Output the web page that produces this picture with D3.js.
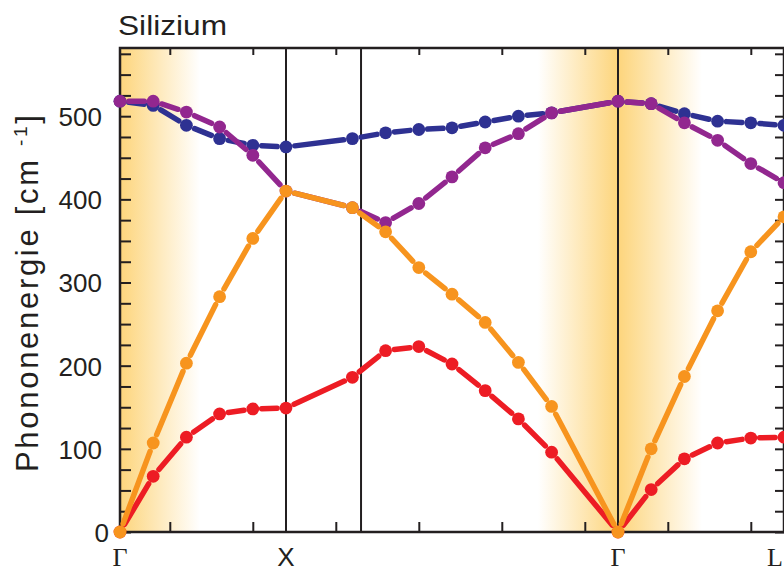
<!DOCTYPE html>
<html>
<head>
<meta charset="utf-8">
<script src="https://cdn.jsdelivr.net/npm/d3@7"></script>
<style>
  html, body { margin: 0; padding: 0; background: #fff; }
  svg { display: block; }
  text { font-family: "Liberation Sans", Arial, sans-serif; fill: #231f20; }
</style>
</head>
<body>
<svg id="chart" width="784" height="572"></svg>
<script>
// Phonon dispersion of silicon along Γ–X–K–Γ–L (path coordinate in sampling steps)
const pathSteps = [0, 1, 2, 3, 4, 5, 7, 8, 9, 10, 11, 12, 13, 15, 16, 17, 18, 19, 20];

const branchTO1 = [518, 513, 489, 473, 465, 463, 473, 480, 484, 486, 493, 500, 504, 518, 515, 503, 494, 492, 489];
const branchTO2 = [518, 518, 505, 487, 453, 410, 390, 372, 395, 427, 462, 479, 504, 518, 515, 492, 471, 443, 420];
const branchLA  = [0, 107, 203, 283, 353, 410, 390, 361, 318, 286, 252, 204, 151, 0, 100, 187, 266, 337, 379];
const branchTA  = [0, 67, 114, 142, 148, 149, 186, 218, 223, 202, 170, 136, 96, 0, 51, 88, 107, 113, 114];

const symmetryPoints = [
  { label: "Γ", step: 0, serif: true, anchor: "middle" },
  { label: "X", step: 5, serif: false, anchor: "middle" },
  { label: "Γ", step: 15, serif: true, anchor: "middle" },
  { label: "L", step: 20, serif: true, anchor: "end" }
];
const dividerSteps = [5, 7.26, 15];
const pathTickSteps = [1.5, 4, 6.5, 9, 11.5, 14, 16.5, 19];
const yTickValues = d3.range(0, 576, 25);
const yLabelValues = [0, 100, 200, 300, 400, 500];

const branches = [
  { name: "TO1", values: branchTO1, color: "#2E3192" },
  { name: "TO2", values: branchTO2, color: "#92278F" },
  { name: "TA",  values: branchTA,  color: "#ED1C24" },
  { name: "LA",  values: branchLA,  color: "#F7941E" }
];

const svg = d3.select("#chart");
const plotL = 120, plotR = 784, plotT = 48, plotB = 532;

const x = d3.scaleLinear().domain([0, 20]).range([plotL, plotR]);
const y = d3.scaleLinear().domain([0, 582]).range([plotB, plotT]);

// highlighted regions around the Γ points
const defs = svg.append("defs");
const band = "#FDD57C";
function grad(id, stops) {
  const x0 = stops[0][0], x1 = stops[stops.length - 1][0];
  const g = defs.append("linearGradient").attr("id", id)
    .attr("gradientUnits", "userSpaceOnUse")
    .attr("x1", x0).attr("x2", x1).attr("y1", 0).attr("y2", 0);
  stops.forEach(([px, op]) => g.append("stop")
    .attr("offset", (px - x0) / (x1 - x0))
    .attr("stop-color", band).attr("stop-opacity", op));
}
grad("gLeft", [[x(0), 1], [x(0) + 80, 0]]);
grad("gMid", [[x(15) - 80, 0], [x(15), 1], [x(15) + 84, 0]]);

svg.append("rect").attr("x", x(0)).attr("y", plotT).attr("width", 80).attr("height", plotB - plotT)
  .attr("fill", "url(#gLeft)");
svg.append("rect").attr("x", x(15) - 80).attr("y", plotT).attr("width", 164).attr("height", plotB - plotT)
  .attr("fill", "url(#gMid)");

// vertical dividers at the symmetry points
svg.selectAll("line.divider").data(dividerSteps).enter().append("line")
  .attr("class", "divider")
  .attr("x1", d => x(d)).attr("x2", d => x(d))
  .attr("y1", plotT).attr("y2", plotB)
  .attr("stroke", "#231f20").attr("stroke-width", 2);

// axes with inward ticks
const yAxisL = d3.axisLeft(y).tickValues(yTickValues).tickSize(-11)
  .tickFormat(d => yLabelValues.includes(d) ? d : "");
const gy = svg.append("g").attr("transform", `translate(${plotL},0)`).call(yAxisL);
gy.select(".domain").remove();
gy.selectAll(".tick line").attr("stroke", "#231f20").attr("stroke-width", 2);
gy.selectAll(".tick text").attr("x", -18).attr("font-size", 26)
  .attr("dy", "0.36em")
  .attr("dx", d => d === 0 ? 7 : 0)
  .style("font-family", '"Liberation Sans", Arial, sans-serif').attr("fill", "#231f20");

const yAxisR = d3.axisRight(y).tickValues(yTickValues).tickSize(-9).tickFormat("");
const gyr = svg.append("g").attr("transform", `translate(${plotR},0)`).call(yAxisR);
gyr.select(".domain").remove();
gyr.selectAll(".tick line").attr("stroke", "#231f20").attr("stroke-width", 2);

const xAxisB = d3.axisBottom(x).tickValues(pathTickSteps).tickSize(-10).tickFormat("");
const gxb = svg.append("g").attr("transform", `translate(0,${plotB})`).call(xAxisB);
gxb.select(".domain").remove();
gxb.selectAll(".tick line").attr("stroke", "#231f20").attr("stroke-width", 2);

const xAxisT = d3.axisTop(x).tickValues(pathTickSteps).tickSize(-7).tickFormat("");
const gxt = svg.append("g").attr("transform", `translate(0,${plotT})`).call(xAxisT);
gxt.select(".domain").remove();
gxt.selectAll(".tick line").attr("stroke", "#231f20").attr("stroke-width", 2);

// frame
svg.append("rect").attr("x", plotL).attr("y", plotT).attr("width", plotR - plotL).attr("height", plotB - plotT)
  .attr("fill", "none").attr("stroke", "#231f20").attr("stroke-width", 2.5);

// branches: segments between markers with small gaps, then markers
const r = 6.4, gap = 2.5;
branches.forEach(b => {
  const pts = pathSteps.map((s, i) => [x(s), y(b.values[i])]);
  const g = svg.append("g").attr("class", "branch " + b.name);
  const segs = d3.pairs(pts).map(([p, q]) => {
    const dx = q[0] - p[0], dy = q[1] - p[1];
    const len = Math.hypot(dx, dy);
    const cut = Math.min(r + gap, len / 2 - 0.1);
    return [p[0] + dx * cut / len, p[1] + dy * cut / len, q[0] - dx * cut / len, q[1] - dy * cut / len];
  });
  g.selectAll("line").data(segs).enter().append("line")
    .attr("x1", d => d[0]).attr("y1", d => d[1]).attr("x2", d => d[2]).attr("y2", d => d[3])
    .attr("stroke", b.color).attr("stroke-width", 5.5).attr("stroke-linecap", "round");
  g.selectAll("circle").data(pts).enter().append("circle")
    .attr("cx", d => d[0]).attr("cy", d => d[1]).attr("r", r).attr("fill", b.color);
});

// symmetry point labels
svg.selectAll("text.sym").data(symmetryPoints).enter().append("text")
  .attr("class", "sym")
  .attr("x", d => d.anchor === "end" ? x(d.step) - 1 : x(d.step)).attr("y", 566)
  .attr("text-anchor", d => d.anchor).attr("font-size", 26)
  .style("font-family", d => d.serif ? '"Liberation Serif", "Times New Roman", serif' : '"Liberation Sans", Arial, sans-serif')
  .text(d => d.label);

// title
svg.append("text").attr("x", 118).attr("y", 35).attr("font-size", 28)
  .attr("textLength", 109).attr("lengthAdjust", "spacingAndGlyphs")
  .text("Silizium");

// y axis title
const yt = svg.append("text")
  .attr("transform", "translate(38,472) rotate(-90)")
  .attr("font-size", 31)
  .attr("textLength", 357).attr("lengthAdjust", "spacing");
yt.append("tspan").text("Phononenergie [cm ");
yt.append("tspan").attr("font-size", 19).attr("dy", -11).text("-1");
yt.append("tspan").attr("dy", 11).text("]");
</script>
</body>
</html>
